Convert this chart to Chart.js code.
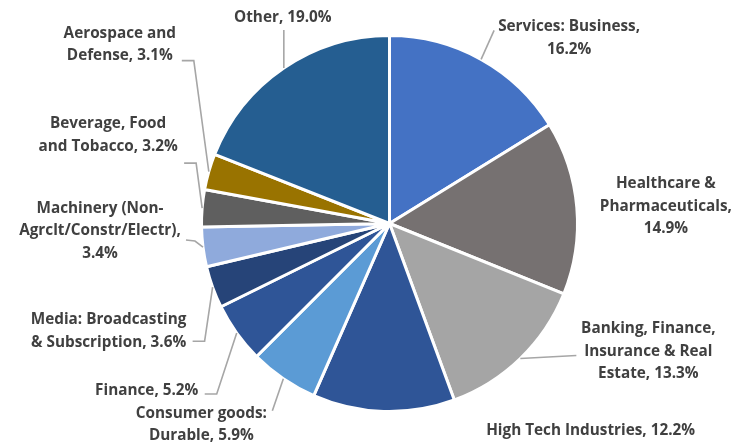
<!DOCTYPE html>
<html>
<head>
<meta charset="utf-8">
<script src="https://cdn.jsdelivr.net/npm/chart.js@4/dist/chart.umd.min.js"></script>
<style>
  html, body { margin: 0; padding: 0; background: #fff; }
  #wrap { width: 733px; height: 446px; position: relative; }
</style>
</head>
<body>
<div id="wrap"><canvas id="chart"></canvas></div>
<script>
const sectors = [
  'Services: Business',
  'Healthcare & Pharmaceuticals',
  'Banking, Finance, Insurance & Real Estate',
  'High Tech Industries',
  'Consumer goods: Durable',
  'Finance',
  'Media: Broadcasting & Subscription',
  'Machinery (Non-Agrclt/Constr/Electr)',
  'Beverage, Food and Tobacco',
  'Aerospace and Defense',
  'Other'
];
const shares = [16.2, 14.9, 13.3, 12.2, 5.9, 5.2, 3.6, 3.4, 3.2, 3.1, 19.0];
const sliceColors = [
  '#4472C4', '#767171', '#A5A5A5', '#2F5597', '#5B9BD5', '#2F5597',
  '#264478', '#8FAADC', '#5F5F5F', '#997300', '#255E91'
];

// how each label is broken into lines (the value is appended to the last one)
const labelLines = [
  ['Services: Business,', ''],
  ['Healthcare &', 'Pharmaceuticals,', ''],
  ['Banking, Finance,', 'Insurance & Real', 'Estate,'],
  ['High Tech Industries,'],
  ['Consumer goods:', 'Durable,'],
  ['Finance,'],
  ['Media: Broadcasting', '& Subscription,'],
  ['Machinery (Non-', 'Agrclt/Constr/Electr),', ''],
  ['Beverage, Food', 'and Tobacco,'],
  ['Aerospace and', 'Defense,'],
  ['Other,']
];

// label block offset from the slice's mid point on the rim, plus leader bends
const labelPlace = [
  { dx: 88, dy: -21, leader: [[13, -29]] },
  { dx: 89, dy: -1, leader: [] },
  { dx: 128, dy: -7, leader: [[56, -3]] },
  { dx: 207, dy: 19, leader: [] },
  { dx: -82, dy: 46, leader: [[-11, 32]] },
  { dx: -90, dy: 58, leader: [[-20, 61], [-32, 61]] },
  { dx: -104, dy: 44, leader: [[-8, 54], [-20, 54]] },
  { dx: -103, dy: -16, leader: [[-8, -6], [-17, -7]] },
  { dx: -94, dy: -73, leader: [[-6, -45], [-18, -45]] },
  { dx: -89, dy: -127, leader: [[-15, -111], [-27, -111]] },
  { dx: -1, dy: -50, leader: [[0, -38]] }
];

const outsideLabels = {
  id: 'outsideLabels',
  afterDatasetsDraw(chart) {
    const ctx = chart.ctx;
    const arcs = chart.getDatasetMeta(0).data;
    ctx.save();
    arcs.forEach((arc, i) => {
      const mid = (arc.startAngle + arc.endAngle) / 2;
      const px = arc.x + Math.cos(mid) * arc.outerRadius;
      const py = arc.y + Math.sin(mid) * arc.outerRadius;
      const place = labelPlace[i];

      if (place.leader.length) {
        ctx.strokeStyle = '#A6A6A6';
        ctx.lineWidth = 1.6;
        ctx.beginPath();
        ctx.moveTo(px, py);
        place.leader.forEach(p => ctx.lineTo(px + p[0], py + p[1]));
        ctx.stroke();
      }

      const lines = labelLines[i].slice();
      const value = shares[i].toFixed(1) + '%';
      const last = lines.length - 1;
      lines[last] = lines[last] ? lines[last] + ' ' + value : value;

      const lh = 22.5;
      ctx.fillStyle = '#404040';
      ctx.font = '700 15.3px "Open Sans", Lato, sans-serif';
      ctx.textAlign = 'center';
      ctx.textBaseline = 'middle';
      const cx = px + place.dx;
      const top = py + place.dy - (lines.length - 1) * lh / 2;
      lines.forEach((t, k) => ctx.fillText(t, cx, top + k * lh));
    });
    ctx.restore();
  }
};

new Chart(document.getElementById('chart'), {
  type: 'pie',
  data: {
    labels: sectors,
    datasets: [{
      data: shares,
      backgroundColor: sliceColors,
      borderColor: '#FFFFFF',
      borderWidth: 3
    }]
  },
  options: {
    responsive: true,
    maintainAspectRatio: false,
    animation: false,
    layout: { padding: { left: 199, right: 153, top: 34, bottom: 33 } },
    plugins: {
      legend: { display: false },
      tooltip: { enabled: false }
    }
  },
  plugins: [outsideLabels]
});
</script>
</body>
</html>
